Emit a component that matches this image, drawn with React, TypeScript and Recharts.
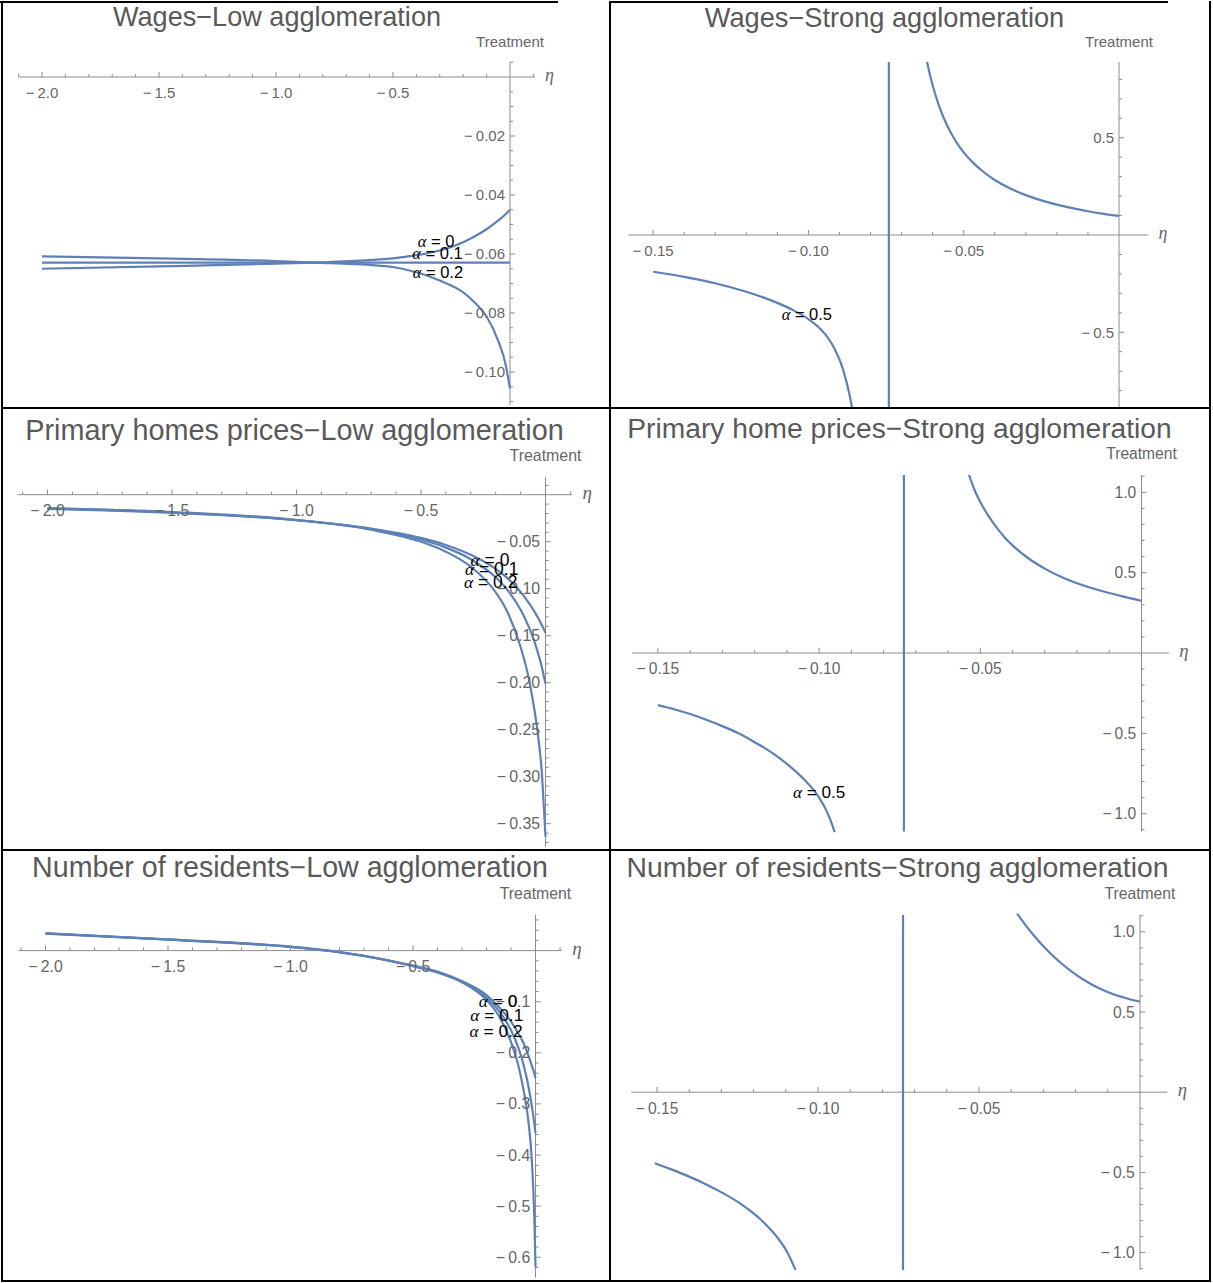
import React from "react";
import { LineChart, Line, XAxis, YAxis, ReferenceLine, ReferenceDot } from "recharts";

const CURVE = "#5e81b5";
const AXIS = "#8c8c8c";
const TICK_TEXT = "#666666";
const TITLE = "#595959";
const SANS = '"Liberation Sans", Arial, sans-serif';
const SERIF = '"Liberation Serif", "DejaVu Serif", serif';

// wages, low agglomeration
const etaWagesLow = [-2, -1.5, -1, -0.83, -0.6, -0.5, -0.4, -0.3, -0.2, -0.15, -0.1, -0.05, -0.02, 0];
const wagesLowA0 = [-0.065, -0.0642, -0.0633, -0.0629, -0.0621, -0.0615, -0.0604, -0.0588, -0.056, -0.054, -0.0516, -0.0486, -0.0466, -0.045];
const wagesLowA1 = [-0.0629, -0.0629, -0.0629, -0.0629, -0.0629, -0.0629, -0.0629, -0.0629, -0.0629, -0.0629, -0.0629, -0.0629, -0.0629, -0.0629];
const wagesLowA2 = [-0.0608, -0.0615, -0.0624, -0.0629, -0.0637, -0.0644, -0.0662, -0.069, -0.073, -0.0765, -0.0812, -0.0895, -0.097, -0.1056];

// wages, strong agglomeration
const etaWagesStrongL = [-0.15, -0.14, -0.13, -0.12, -0.11, -0.105, -0.1, -0.097, -0.094, -0.0915, -0.089, -0.0865, -0.0855];
const wagesStrongL = [-0.189, -0.215, -0.248, -0.292, -0.349, -0.386, -0.432, -0.47, -0.522, -0.587, -0.683, -0.841, -0.929];
const etaWagesStrongR = [-0.0618, -0.061, -0.06, -0.058, -0.056, -0.054, -0.052, -0.05, -0.047, -0.044, -0.04, -0.035, -0.03, -0.025, -0.02, -0.015, -0.01, -0.005, 0];
const wagesStrongR = [0.891, 0.833, 0.77, 0.667, 0.586, 0.522, 0.469, 0.425, 0.372, 0.329, 0.283, 0.239, 0.205, 0.178, 0.156, 0.138, 0.122, 0.109, 0.098];

// primary home prices, low agglomeration
const etaHomesLow = [-2, -1.5, -1, -0.7, -0.5, -0.4, -0.3, -0.2, -0.15, -0.1, -0.07, -0.05, -0.03, -0.015, -0.005, 0];
const homesLowA0 = [-0.015, -0.0192, -0.027, -0.036, -0.046, -0.0535, -0.064, -0.079, -0.0895, -0.1035, -0.114, -0.122, -0.131, -0.1385, -0.144, -0.147];
const homesLowA1 = [-0.0146, -0.0189, -0.0271, -0.0365, -0.0477, -0.0563, -0.0686, -0.0879, -0.1023, -0.1224, -0.1388, -0.152, -0.1685, -0.183, -0.195, -0.201];
const homesLowA2 = [-0.0142, -0.0184, -0.0269, -0.0373, -0.0501, -0.0606, -0.0766, -0.1039, -0.1264, -0.162, -0.192, -0.22, -0.256, -0.295, -0.34, -0.364];

// primary home prices, strong agglomeration
const etaHomesStrongL = [-0.15, -0.145, -0.14, -0.135, -0.13, -0.125, -0.12, -0.115, -0.11, -0.105, -0.1, -0.0975, -0.0955, -0.0945];
const homesStrongL = [-0.324, -0.35, -0.38, -0.415, -0.455, -0.5, -0.555, -0.615, -0.69, -0.78, -0.9, -0.99, -1.095, -1.16];
const etaHomesStrongR = [-0.0535, -0.052, -0.05, -0.048, -0.046, -0.044, -0.042, -0.04, -0.035, -0.03, -0.025, -0.02, -0.015, -0.01, -0.005, 0];
const homesStrongR = [1.108, 1.025, 0.94, 0.87, 0.81, 0.757, 0.71, 0.67, 0.588, 0.525, 0.474, 0.434, 0.401, 0.373, 0.348, 0.325];

// number of residents, low agglomeration
const etaResLow = [-2, -1.5, -1, -0.9, -0.7, -0.5, -0.4, -0.3, -0.2, -0.15, -0.1, -0.07, -0.05, -0.03, -0.015, -0.005, 0];
const resLowA0 = [0.034, 0.022, 0.0077, 0.003, -0.01, -0.0295, -0.041, -0.06, -0.087, -0.11, -0.139, -0.162, -0.18, -0.204, -0.225, -0.24, -0.25];
const resLowA1 = [0.0336, 0.0217, 0.0074, 0.0027, -0.0103, -0.03, -0.0424, -0.061, -0.0922, -0.1176, -0.156, -0.19, -0.221, -0.263, -0.304, -0.338, -0.3575];
const resLowA2 = [0.0332, 0.0214, 0.0071, 0.0024, -0.0106, -0.0305, -0.0427, -0.0619, -0.0967, -0.1276, -0.179, -0.225, -0.27, -0.33, -0.41, -0.52, -0.619];

// number of residents, strong agglomeration
const etaResStrongL = [-0.1507, -0.146, -0.1411, -0.135, -0.1291, -0.124, -0.1196, -0.116, -0.1124, -0.1095, -0.107];
const resStrongL = [-0.443, -0.478, -0.517, -0.572, -0.634, -0.696, -0.762, -0.829, -0.911, -0.999, -1.108];
const etaResStrongR = [-0.0383, -0.0355, -0.0329, -0.03, -0.0269, -0.024, -0.021, -0.018, -0.015, -0.0115, -0.0078, -0.004, 0];
const resStrongR = [1.118, 1.04, 0.975, 0.91, 0.848, 0.796, 0.748, 0.707, 0.672, 0.637, 0.607, 0.584, 0.564];

// asymptote position (strong agglomeration)
const poleWages = -0.0741;
const poleHomes = -0.0737;
const poleRes = -0.0736;

// tick labels
const xMajorLow = [-2, -1.5, -1, -0.5];
const xLabelsLow = ["−2.0", "−1.5", "−1.0", "−0.5"];
const xMajorStrong = [-0.15, -0.1, -0.05];
const xLabelsStrong = ["−0.15", "−0.10", "−0.05"];
const yMajorWagesLow = [-0.02, -0.04, -0.06, -0.08, -0.1];
const yLabelsWagesLow = ["−0.02", "−0.04", "−0.06", "−0.08", "−0.10"];
const yMajorWagesStrong = [0.5, -0.5];
const yLabelsWagesStrong = ["0.5", "−0.5"];
const yMajorHomesLow = [-0.05, -0.1, -0.15, -0.2, -0.25, -0.3, -0.35];
const yLabelsHomesLow = ["−0.05", "−0.10", "−0.15", "−0.20", "−0.25", "−0.30", "−0.35"];
const yMajorStrong = [1, 0.5, -0.5, -1];
const yLabelsStrong = ["1.0", "0.5", "−0.5", "−1.0"];
const yMajorResLow = [-0.1, -0.2, -0.3, -0.4, -0.5, -0.6];
const yLabelsResLow = ["−0.1", "−0.2", "−0.3", "−0.4", "−0.5", "−0.6"];

const range = (a: number, b: number, step: number) => {
  const out: number[] = [];
  const n = Math.round((b - a) / step);
  for (let i = 0; i <= n; i++) out.push(Math.round((a + i * step) * 1e6) / 1e6);
  return out;
};
const minors = (a: number, b: number, step: number, majors: number[]) =>
  range(a, b, step).filter((v) => Math.abs(v) > 1e-9 && !majors.some((m) => Math.abs(m - v) < 1e-9));

const zip = (xs: number[], ys: number[]) => xs.map((x, i) => ({ x, y: ys[i] }));
const fmt = (s: string) => s.replace("−", "−\u2009");

type Series = { data: { x: number; y: number }[]; type: "monotone" | "linear" };
type CurveLabel = { text: string; x: number; y: number };

type PanelProps = {
  title: string;
  titleX: number;
  titleBaseline: number;
  titleSize: number;
  s: number;
  box: { left: number; top: number; width: number; height: number };
  origin: { ox: number; oy: number; sx: number; sy: number };
  xDomain: [number, number];
  yDomain: [number, number];
  xAxis: [number, number];
  yAxis: [number, number];
  xMajor: number[];
  xLabels: string[];
  xMinor: number[];
  yMajor: number[];
  yLabels: string[];
  yMinor: number[];
  series: Series[];
  labels: CurveLabel[];
};

function Panel(p: PanelProps) {
  const { box, origin, s } = p;
  const margin = {
    left: origin.ox + p.xDomain[0] * origin.sx - box.left,
    right: box.left + box.width - (origin.ox + p.xDomain[1] * origin.sx),
    top: origin.oy - p.yDomain[1] * origin.sy - box.top,
    bottom: box.top + box.height - (origin.oy - p.yDomain[0] * origin.sy),
  };
  const fs = 15 * s;
  const major = 5 * s;
  const minor = 3 * s;

  const xTick = (label: string | null, len: number) => (d: any) => (
    <g>
      <line x1={d.cx} y1={d.cy} x2={d.cx} y2={d.cy - len} stroke={AXIS} strokeWidth={1} />
      {label && (
        <text x={d.cx} y={d.cy + 20.5 * s} textAnchor="middle" fontSize={fs} fill={TICK_TEXT} fontFamily={SANS}>
          {fmt(label)}
        </text>
      )}
    </g>
  );
  const yTick = (label: string | null, len: number) => (d: any) => (
    <g>
      <line x1={d.cx} y1={d.cy} x2={d.cx + len} y2={d.cy} stroke={AXIS} strokeWidth={1} />
      {label && (
        <text x={d.cx - 5 * s} y={d.cy + 5.3 * s} textAnchor="end" fontSize={fs} fill={TICK_TEXT} fontFamily={SANS}>
          {fmt(label)}
        </text>
      )}
    </g>
  );

  return (
    <>
      <div
        style={{
          position: "absolute",
          left: p.titleX - 400,
          width: 800,
          top: p.titleBaseline - 0.8465 * p.titleSize,
          fontSize: p.titleSize,
          lineHeight: `${p.titleSize}px`,
          fontFamily: SANS,
          color: TITLE,
          textAlign: "center",
          whiteSpace: "nowrap",
        }}
      >
        {p.title}
      </div>
      <div style={{ position: "absolute", left: box.left, top: box.top }}>
        <LineChart width={box.width} height={box.height} margin={margin}>
          <XAxis type="number" dataKey="x" domain={p.xDomain} allowDataOverflow hide />
          <YAxis type="number" dataKey="y" domain={p.yDomain} allowDataOverflow hide />
          <ReferenceLine
            segment={[{ x: p.xAxis[0], y: 0 }, { x: p.xAxis[1], y: 0 }]}
            stroke={AXIS}
            strokeWidth={1}
            ifOverflow="visible"
          />
          <ReferenceLine
            segment={[{ x: 0, y: p.yAxis[0] }, { x: 0, y: p.yAxis[1] }]}
            stroke={AXIS}
            strokeWidth={1}
            ifOverflow="visible"
          />
          {p.xMinor.map((v) => (
            <ReferenceDot key={`xm${v}`} x={v} y={0} r={1} ifOverflow="visible" shape={xTick(null, minor)} />
          ))}
          {p.xMajor.map((v, i) => (
            <ReferenceDot key={`xM${v}`} x={v} y={0} r={1} ifOverflow="visible" shape={xTick(p.xLabels[i], major)} />
          ))}
          {p.yMinor.map((v) => (
            <ReferenceDot key={`ym${v}`} x={0} y={v} r={1} ifOverflow="visible" shape={yTick(null, minor)} />
          ))}
          {p.yMajor.map((v, i) => (
            <ReferenceDot key={`yM${v}`} x={0} y={v} r={1} ifOverflow="visible" shape={yTick(p.yLabels[i], major)} />
          ))}
          <ReferenceDot
            x={p.xAxis[1]}
            y={0}
            r={1}
            ifOverflow="visible"
            shape={(d: any) => (
              <text x={d.cx + 10 * s} y={d.cy + 4 * s} fontSize={18 * s} fill={TICK_TEXT} fontFamily={SERIF} fontStyle="italic">
                η
              </text>
            )}
          />
          <ReferenceDot
            x={0}
            y={p.yAxis[1]}
            r={1}
            ifOverflow="visible"
            shape={(d: any) => (
              <text x={d.cx} y={d.cy - 15 * s} textAnchor="middle" fontSize={fs} fill={TICK_TEXT} fontFamily={SANS}>
                Treatment
              </text>
            )}
          />
          {p.series.map((sr, i) => (
            <Line
              key={`s${i}`}
              data={sr.data}
              dataKey="y"
              type={sr.type}
              stroke={CURVE}
              strokeWidth={2.2}
              dot={false}
              activeDot={false}
              isAnimationActive={false}
            />
          ))}
          {p.labels.map((l, i) => (
            <ReferenceDot
              key={`l${i}`}
              x={l.x}
              y={l.y}
              r={1}
              ifOverflow="visible"
              shape={(d: any) => (
                <text x={d.cx} y={d.cy} textAnchor="middle" dominantBaseline="central" fontSize={16.5 * s} fill="#000">
                  <tspan fontFamily={SERIF} fontStyle="italic">α</tspan>
                  <tspan fontFamily={SANS}>{` = ${l.text}`}</tspan>
                </text>
              )}
            />
          ))}
        </LineChart>
      </div>
    </>
  );
}

const Bar = ({ x, y, w, h }: { x: number; y: number; w: number; h: number }) => (
  <div style={{ position: "absolute", left: x, top: y, width: w, height: h, background: "#000" }} />
);

export default function App() {
  const xMinorLow = minors(-2.1, 0.1, 0.1, xMajorLow);
  const xMinorStrong = minors(-0.15, 0, 0.01, xMajorStrong);

  return (
    <div style={{ position: "absolute", left: 0, top: 0, width: 1213, height: 1283, background: "#fff", overflow: "hidden" }}>
      <Panel
        title="Wages−Low agglomeration"
        titleX={277}
        titleBaseline={26}
        titleSize={27.1}
        s={1}
        box={{ left: 0, top: 0, width: 610, height: 408 }}
        origin={{ ox: 510, oy: 77, sx: 234, sy: 2950 }}
        xDomain={[-2.12, 0.16]}
        yDomain={[-0.112, 0.007]}
        xAxis={[-2.1, 0.107]}
        yAxis={[-0.1112, 0.0051]}
        xMajor={xMajorLow}
        xLabels={xLabelsLow}
        xMinor={xMinorLow}
        yMajor={yMajorWagesLow}
        yLabels={yLabelsWagesLow}
        yMinor={minors(-0.11, 0.005, 0.005, yMajorWagesLow)}
        series={[
          { data: zip(etaWagesLow, wagesLowA0), type: "monotone" },
          { data: zip(etaWagesLow, wagesLowA1), type: "monotone" },
          { data: zip(etaWagesLow, wagesLowA2), type: "monotone" },
        ]}
        labels={[
          { text: "0", x: -0.316, y: -0.0555 },
          { text: "0.1", x: -0.31, y: -0.0598 },
          { text: "0.2", x: -0.308, y: -0.066 },
        ]}
      />
      <Panel
        title="Wages−Strong agglomeration"
        titleX={884.5}
        titleBaseline={27}
        titleSize={27.2}
        s={1}
        box={{ left: 610, top: 0, width: 603, height: 408 }}
        origin={{ ox: 1119, oy: 235, sx: 3106, sy: 194.5 }}
        xDomain={[-0.16, 0.012]}
        yDomain={[-0.888, 0.892]}
        xAxis={[-0.158, 0.0095]}
        yAxis={[-0.884, 0.889]}
        xMajor={xMajorStrong}
        xLabels={xLabelsStrong}
        xMinor={xMinorStrong}
        yMajor={yMajorWagesStrong}
        yLabels={yLabelsWagesStrong}
        yMinor={minors(-0.8, 0.8, 0.1, yMajorWagesStrong)}
        series={[
          { data: zip(etaWagesStrongL, wagesStrongL), type: "monotone" },
          { data: zip([poleWages, poleWages], [-0.884, 0.889]), type: "linear" },
          { data: zip(etaWagesStrongR, wagesStrongR), type: "monotone" },
        ]}
        labels={[{ text: "0.5", x: -0.1005, y: -0.406 }]}
      />
      <Panel
        title="Primary homes prices−Low agglomeration"
        titleX={294.5}
        titleBaseline={440}
        titleSize={28.8}
        s={1.06}
        box={{ left: 0, top: 408, width: 610, height: 442 }}
        origin={{ ox: 545.5, oy: 494.7, sx: 249, sy: 940 }}
        xDomain={[-2.14, 0.16]}
        yDomain={[-0.377, 0.021]}
        xAxis={[-2.12, 0.106]}
        yAxis={[-0.3745, 0.019]}
        xMajor={xMajorLow}
        xLabels={xLabelsLow}
        xMinor={xMinorLow}
        yMajor={yMajorHomesLow}
        yLabels={yLabelsHomesLow}
        yMinor={minors(-0.37, 0.01, 0.01, yMajorHomesLow)}
        series={[
          { data: zip(etaHomesLow, homesLowA0), type: "monotone" },
          { data: zip(etaHomesLow, homesLowA1), type: "monotone" },
          { data: zip(etaHomesLow, homesLowA2), type: "monotone" },
        ]}
        labels={[
          { text: "0", x: -0.223, y: -0.0695 },
          { text: "0.1", x: -0.216, y: -0.079 },
          { text: "0.2", x: -0.22, y: -0.0926 },
        ]}
      />
      <Panel
        title="Primary home prices−Strong agglomeration"
        titleX={899.5}
        titleBaseline={438}
        titleSize={28.2}
        s={1.04}
        box={{ left: 610, top: 408, width: 603, height: 442 }}
        origin={{ ox: 1141.5, oy: 653, sx: 3224, sy: 160.7 }}
        xDomain={[-0.16, 0.012]}
        yDomain={[-1.115, 1.115]}
        xAxis={[-0.158, 0.0085]}
        yAxis={[-1.11, 1.108]}
        xMajor={xMajorStrong}
        xLabels={xLabelsStrong}
        xMinor={xMinorStrong}
        yMajor={yMajorStrong}
        yLabels={yLabelsStrong}
        yMinor={minors(-1.1, 1.1, 0.1, yMajorStrong)}
        series={[
          { data: zip(etaHomesStrongL, homesStrongL), type: "monotone" },
          { data: zip([poleHomes, poleHomes], [-1.11, 1.108]), type: "linear" },
          { data: zip(etaHomesStrongR, homesStrongR), type: "monotone" },
        ]}
        labels={[{ text: "0.5", x: -0.1, y: -0.865 }]}
      />
      <Panel
        title="Number of residents−Low agglomeration"
        titleX={290}
        titleBaseline={877}
        titleSize={28.6}
        s={1.055}
        box={{ left: 0, top: 850, width: 610, height: 431 }}
        origin={{ ox: 535.5, oy: 950.6, sx: 245, sy: 511 }}
        xDomain={[-2.14, 0.16]}
        yDomain={[-0.645, 0.075]}
        xAxis={[-2.11, 0.107]}
        yAxis={[-0.64, 0.07]}
        xMajor={xMajorLow}
        xLabels={xLabelsLow}
        xMinor={xMinorLow}
        yMajor={yMajorResLow}
        yLabels={yLabelsResLow}
        yMinor={minors(-0.62, 0.06, 0.02, yMajorResLow)}
        series={[
          { data: zip(etaResLow, resLowA0), type: "monotone" },
          { data: zip(etaResLow, resLowA1), type: "monotone" },
          { data: zip(etaResLow, resLowA2), type: "monotone" },
        ]}
        labels={[
          { text: "0", x: -0.153, y: -0.0977 },
          { text: "0.1", x: -0.158, y: -0.126 },
          { text: "0.2", x: -0.161, y: -0.157 },
        ]}
      />
      <Panel
        title="Number of residents−Strong agglomeration"
        titleX={897.5}
        titleBaseline={877}
        titleSize={28.3}
        s={1.045}
        box={{ left: 610, top: 850, width: 603, height: 431 }}
        origin={{ ox: 1140, oy: 1092.2, sx: 3220, sy: 160.4 }}
        xDomain={[-0.16, 0.012]}
        yDomain={[-1.115, 1.112]}
        xAxis={[-0.158, 0.0085]}
        yAxis={[-1.108, 1.105]}
        xMajor={xMajorStrong}
        xLabels={xLabelsStrong}
        xMinor={xMinorStrong}
        yMajor={yMajorStrong}
        yLabels={yLabelsStrong}
        yMinor={minors(-1.1, 1.1, 0.1, yMajorStrong)}
        series={[
          { data: zip(etaResStrongL, resStrongL), type: "monotone" },
          { data: zip([poleRes, poleRes], [-1.108, 1.105]), type: "linear" },
          { data: zip(etaResStrongR, resStrongR), type: "monotone" },
        ]}
        labels={[]}
      />
      {/* table borders */}
      <Bar x={0} y={1} w={558} h={2} />
      <Bar x={610} y={1} w={558} h={2} />
      <Bar x={1} y={1} w={2} h={1281} />
      <Bar x={609} y={1} w={2} h={1281} />
      <Bar x={1209} y={1} w={2} h={1281} />
      <Bar x={1} y={407} w={1210} h={2} />
      <Bar x={1} y={849} w={1210} h={2} />
      <Bar x={1} y={1280} w={1210} h={2} />
    </div>
  );
}
